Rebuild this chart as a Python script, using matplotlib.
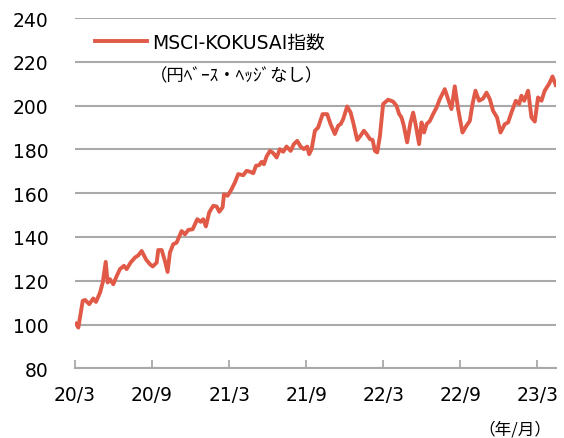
import matplotlib
matplotlib.use("Agg")
import matplotlib.pyplot as plt

plt.rcParams['font.family'] = ['DejaVu Sans', 'Noto Sans CJK JP']

# months elapsed since 2020/3, index level
months = [0.08, 0.26, 0.60, 0.78, 1.11, 1.42, 1.63, 1.95, 2.16, 2.39,
          2.54, 2.72, 2.98, 3.25, 3.50, 3.81, 4.02, 4.33, 4.67, 4.93,
          5.19, 5.53, 5.84, 6.05, 6.36, 6.48, 6.75, 7.00, 7.21, 7.39,
          7.65, 7.91, 8.30, 8.56, 8.82, 9.16, 9.52, 9.78, 9.98, 10.19,
          10.45, 10.76, 11.03, 11.23, 11.49, 11.60, 11.88, 12.19, 12.45, 12.71,
          13.10, 13.36, 13.67, 13.88, 14.09, 14.34, 14.53, 14.71, 14.92, 15.18,
          15.43, 15.70, 15.95, 16.21, 16.47, 16.79, 17.04, 17.30, 17.56, 17.82,
          18.08, 18.23, 18.42, 18.68, 18.93, 19.28, 19.63, 19.90, 20.23, 20.49,
          20.68, 20.88, 21.19, 21.46, 21.66, 21.97, 22.23, 22.49, 22.70, 22.96,
          23.17, 23.35, 23.53, 23.74, 23.99, 24.38, 24.77, 25.03, 25.24, 25.42,
          25.60, 25.86, 26.12, 26.33, 26.54, 26.79, 26.98, 27.18, 27.37, 27.63,
          27.88, 28.15, 28.40, 28.79, 29.05, 29.31, 29.57, 29.83, 30.17, 30.48,
          30.74, 30.95, 31.18, 31.46, 31.77, 32.04, 32.30, 32.55, 32.86, 33.13,
          33.46, 33.72, 33.98, 34.32, 34.58, 34.76, 34.97, 35.28, 35.54, 35.80,
          36.05, 36.32, 36.57, 36.91, 37.18, 37.43]
index_values = [100.4, 98.6, 110.8, 111.2, 109.3, 111.9, 110.3, 114.6, 119.2, 128.6,
                119.2, 120.7, 118.4, 122.2, 125.3, 126.8, 125.3, 128.3, 130.6, 131.6,
                133.6, 129.7, 127.5, 126.5, 128.3, 134.0, 134.0, 129.0, 124.0, 132.9,
                136.7, 137.4, 142.7, 141.2, 143.2, 143.5, 148.1, 146.9, 148.1, 144.8,
                151.2, 154.2, 153.9, 151.5, 153.5, 159.5, 158.8, 161.8, 164.9, 168.7,
                168.2, 170.2, 169.7, 169.1, 172.5, 172.8, 174.3, 173.2, 176.8, 179.3,
                178.3, 176.3, 180.1, 178.9, 181.3, 179.3, 182.4, 183.9, 181.3, 180.1,
                181.3, 177.8, 180.1, 188.5, 190.0, 196.1, 196.1, 191.5, 187.0, 190.8,
                191.5, 193.8, 199.6, 196.8, 192.3, 184.3, 186.2, 188.5, 187.0, 184.7,
                184.3, 179.3, 178.6, 186.0, 200.7, 202.7, 201.8, 199.9, 196.1, 194.6,
                190.8, 183.2, 192.3, 196.8, 190.8, 182.4, 192.3, 187.7, 191.5, 193.0,
                196.1, 199.1, 202.9, 207.5, 202.9, 198.4, 208.8, 198.4, 187.7, 190.8,
                193.0, 200.7, 206.8, 202.2, 203.2, 205.9, 202.9, 197.6, 194.6, 187.7,
                191.5, 192.3, 196.8, 202.2, 200.7, 204.5, 202.2, 206.8, 194.6, 192.7,
                203.7, 202.2, 206.8, 209.9, 213.3, 209.4]

tick_months = [0, 6, 12, 18, 24, 30, 36]
tick_labels = ['20/3', '20/9', '21/3', '21/9', '22/3', '22/9', '23/3']
y_ticks = [80, 100, 120, 140, 160, 180, 200, 220, 240]

line_color = '#E05A47'
grid_color = '#A9A9A9'

fig = plt.figure(figsize=(5.64, 4.39), dpi=100)
ax = fig.add_axes([0.133, 0.1588, 0.8528, 0.7979])

ax.plot(months, index_values, color=line_color, lw=2.8,
        solid_joinstyle='round', label='MSCI-KOKUSAI指数', zorder=3)

ax.set_xlim(0, 37.45)
ax.set_ylim(80, 240)
ax.set_yticks(y_ticks)
ax.set_xticks(tick_months)
ax.set_xticklabels(tick_labels)

ax.grid(axis='y', color=grid_color, lw=1.5)
ax.set_axisbelow(True)
for side in ['top', 'right', 'left']:
    ax.spines[side].set_visible(False)
ax.spines['bottom'].set_color(grid_color)
ax.spines['bottom'].set_linewidth(1.5)

ax.tick_params(axis='y', length=0, pad=19, labelsize=13.5)
ax.tick_params(axis='x', direction='in', length=5.5, width=1.3,
               color=grid_color, pad=12, labelsize=13.5)

ax.legend(loc='center left', bbox_to_anchor=(95 / 564, 1 - 43 / 439),
          bbox_transform=fig.transFigure, frameon=False, borderpad=0,
          borderaxespad=0, handlelength=2.75, handletextpad=0.3,
          fontsize=13.5)
fig.text(150 / 564, 1 - 76 / 439, '（円ﾍﾞｰｽ・ﾍｯｼﾞなし）', ha='left', va='center',
         fontsize=12.5, family=['Noto Sans CJK JP'])
fig.text(515 / 564, 1 - 430 / 439, '（年/月）', ha='center', va='center',
         fontsize=12, family=['Noto Sans CJK JP'])

fig.savefig('out.png', dpi=100)
